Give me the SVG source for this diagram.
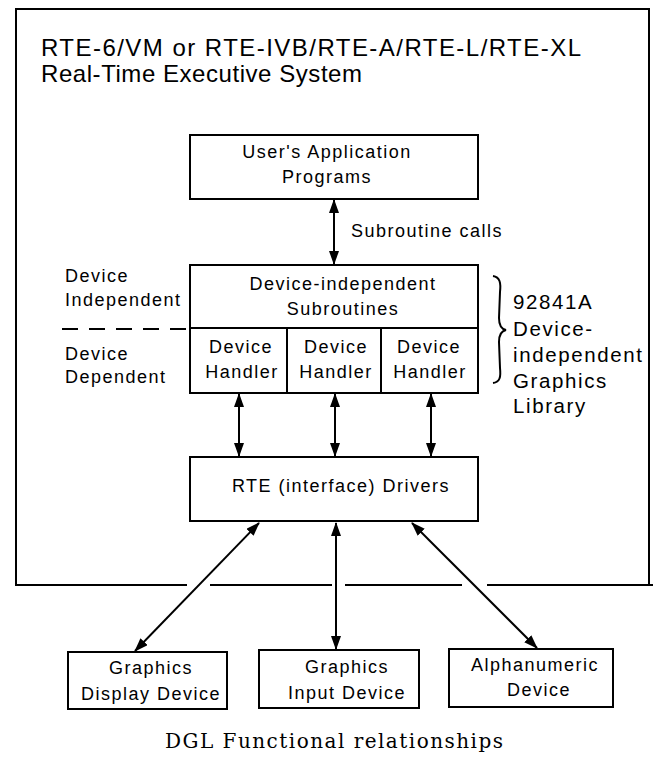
<svg xmlns="http://www.w3.org/2000/svg" width="653" height="770" viewBox="0 0 653 770">
<style>
  .bx{fill:#fff;stroke:#000;stroke-width:2}
  .ln{fill:none;stroke:#000;stroke-width:2}
  .t{font-family:"Liberation Sans",Arial,Helvetica,sans-serif;font-size:18px;letter-spacing:1.5px;fill:#000}
  .m{text-anchor:middle}
  .r{font-family:"Liberation Sans",Arial,Helvetica,sans-serif;font-size:20.5px;letter-spacing:1.6px;fill:#000}
  .h{font-family:"Liberation Sans",Arial,Helvetica,sans-serif;font-size:24px;fill:#000}
  .cap{font-family:"DejaVu Serif","Liberation Serif",serif;font-size:20px;fill:#000}
  .ar{fill:none;stroke:#000;stroke-width:2;marker-start:url(#ah);marker-end:url(#ah)}
</style>
<defs>
  <marker id="ah" viewBox="0 0 14 10" refX="13" refY="5" markerWidth="14" markerHeight="10" markerUnits="userSpaceOnUse" orient="auto-start-reverse">
    <path d="M0,0 L14,5 L0,10 Z" fill="#000"/>
  </marker>
</defs>
<rect width="653" height="770" fill="#fff"/>

<g id="frame">
  <path class="ln" d="M187,585 L16,585 L16,9 L649,9 L649,585"/>
  <path class="ln" d="M210,585 H332 M345,585 H462 M487,585 H653"/>
  <text class="h" x="41" y="56" textLength="540" lengthAdjust="spacing">RTE-6/VM or RTE-IVB/RTE-A/RTE-L/RTE-XL</text>
  <text class="h" x="41" y="82" textLength="321" lengthAdjust="spacing">Real-Time Executive System</text>
</g>

<g id="user-programs">
  <rect class="bx" x="190" y="135" width="288" height="64"/>
  <text class="t m" x="327" y="158">User's Application</text>
  <text class="t m" x="327" y="183">Programs</text>
</g>

<g id="dgl-library">
  <rect class="bx" x="190" y="265" width="288" height="128"/>
  <path class="ln" d="M190,328 H478 M287,328 V393 M381,328 V393"/>
  <text class="t m" x="343" y="290">Device-independent</text>
  <text class="t m" x="343" y="315">Subroutines</text>
</g>

<g id="handler-1">
  <text class="t m" x="241" y="353">Device</text>
  <text class="t m" x="242" y="378">Handler</text>
</g>
<g id="handler-2">
  <text class="t m" x="336" y="353">Device</text>
  <text class="t m" x="336" y="378">Handler</text>
</g>
<g id="handler-3">
  <text class="t m" x="429" y="353">Device</text>
  <text class="t m" x="430" y="378">Handler</text>
</g>

<g id="layer-labels">
  <text class="t" x="65" y="282">Device</text>
  <text class="t" x="65" y="306">Independent</text>
  <path d="M62,329 H190" fill="none" stroke="#000" stroke-width="2" stroke-dasharray="16 11"/>
  <text class="t" x="65" y="360">Device</text>
  <text class="t" x="65" y="383">Dependent</text>
</g>

<g id="library-label">
  <path d="M493,276 C500,277 501,283 500,292 L499,318 C499,325 501,329 506,330 C501,331 499,335 499,342 L500,368 C501,377 500,382 493,383" fill="none" stroke="#000" stroke-width="2"/>
  <text class="r" x="513" y="309">92841A</text>
  <text class="r" x="513" y="336">Device-</text>
  <text class="r" x="513" y="362">independent</text>
  <text class="r" x="513" y="388">Graphics</text>
  <text class="r" x="513" y="413">Library</text>
</g>

<g id="rte-drivers">
  <rect class="bx" x="190" y="457" width="288" height="64"/>
  <text class="t m" x="341" y="492">RTE (interface) Drivers</text>
</g>

<g id="graphics-display">
  <rect class="bx" x="68" y="652" width="159" height="57"/>
  <text class="t m" x="151" y="674">Graphics</text>
  <text class="t m" x="151" y="700">Display Device</text>
</g>
<g id="graphics-input">
  <rect class="bx" x="259" y="650" width="160" height="58"/>
  <text class="t m" x="347" y="673">Graphics</text>
  <text class="t m" x="347" y="699">Input Device</text>
</g>
<g id="alphanumeric">
  <rect class="bx" x="449" y="649" width="164" height="58"/>
  <text class="t m" x="535" y="671">Alphanumeric</text>
  <text class="t m" x="539" y="696">Device</text>
</g>

<g id="connectors">
  <line class="ar" x1="334" y1="200" x2="334" y2="264"/>
  <text class="t" x="351" y="237">Subroutine calls</text>
  <line class="ar" x1="239" y1="394" x2="239" y2="456"/>
  <line class="ar" x1="335" y1="394" x2="335" y2="456"/>
  <line class="ar" x1="431" y1="394" x2="431" y2="456"/>
  <line class="ar" x1="259" y1="523" x2="135" y2="651"/>
  <line class="ar" x1="336" y1="523" x2="336" y2="649"/>
  <line class="ar" x1="412" y1="523" x2="537" y2="648"/>
</g>

<text class="cap m" x="334" y="748" textLength="338" lengthAdjust="spacing">DGL Functional relationships</text>
</svg>
